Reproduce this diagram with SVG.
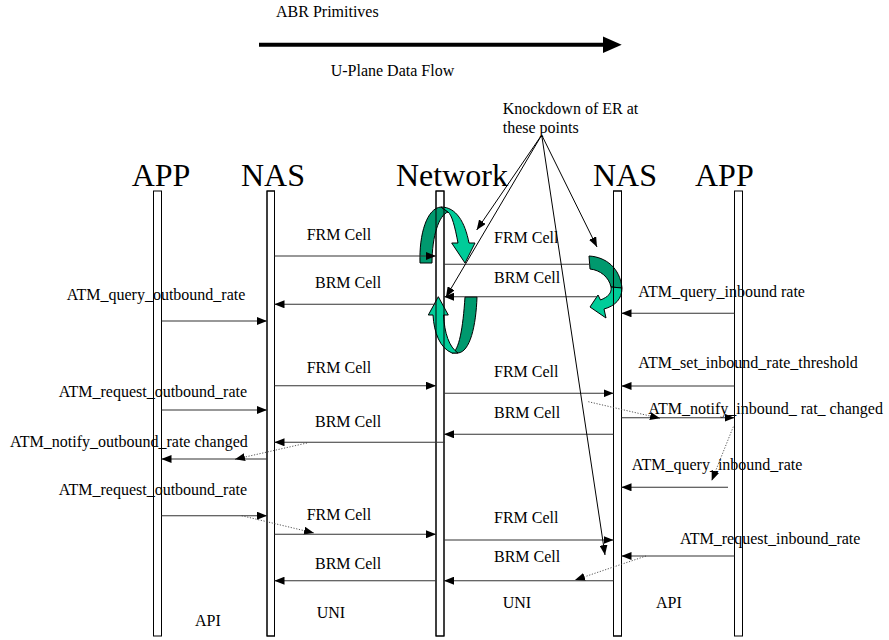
<svg xmlns="http://www.w3.org/2000/svg" width="889" height="640" viewBox="0 0 889 640">
  <style>
    text { font-family: "Liberation Serif", "Times New Roman", serif; fill: #000; }
    .lbl { font-size: 16px; }
    .hdr { font-size: 32px; }
    .life { fill: #fff; stroke: #000; stroke-width: 1; }
    .edge { fill: none; stroke: #000; stroke-width: 1; }
    .msg { fill: none; stroke: #333; stroke-width: 1.1; marker-end: url(#head); }
    .line { fill: none; stroke: #333; stroke-width: 1.1; }
    .dot { fill: none; stroke: #444; stroke-width: 0.9; stroke-dasharray: 1.2 1.6; marker-end: url(#head); }
    .knock { fill: none; stroke: #000; stroke-width: 1; marker-end: url(#head); }
    .dark { fill: #00996E; stroke: #000; stroke-width: 1; stroke-linejoin: round; }
    .light { fill: #00CC99; stroke: #000; stroke-width: 1; stroke-linejoin: round; }
  </style>
  <defs>
    <marker id="head" viewBox="0 0 10 8" refX="10" refY="4" markerWidth="10" markerHeight="8" markerUnits="userSpaceOnUse" orient="auto">
      <path d="M0,0 L10,4 L0,8 Z" fill="#000"/>
    </marker>
  </defs>

  <!-- legend -->
  <g id="legend">
    <text class="lbl" x="276" y="17">ABR Primitives</text>
    <line x1="259" y1="44.7" x2="604" y2="44.7" stroke="#000" stroke-width="4"/>
    <polygon points="603,36.5 621.7,44.7 603,53" fill="#000"/>
    <text class="lbl" x="330.7" y="76">U-Plane Data Flow</text>
  </g>

  <!-- lifelines -->
  <g id="app-left">
    <text class="hdr" x="131.7" y="186">APP</text>
    <rect class="life" x="153.5" y="191" width="8" height="445"/>
  </g>
  <g id="nas-left">
    <text class="hdr" x="241" y="186">NAS</text>
    <rect class="life" x="267" y="191" width="7.5" height="445"/>
  </g>
  <g id="network">
    <text class="hdr" x="396" y="186">Network</text>
    <rect class="life" x="436" y="191" width="8" height="445"/>
  </g>
  <g id="nas-right">
    <text class="hdr" x="593" y="186">NAS</text>
    <rect class="life" x="613.5" y="191" width="8" height="445"/>
  </g>
  <g id="app-right">
    <text class="hdr" x="695" y="186">APP</text>
    <rect class="life" x="734.5" y="191" width="8" height="445"/>
  </g>

  <!-- rate adjustment loops -->
  <g id="loops">
    <!-- upper loop at the network -->
    <path class="dark" d="M420,263 C419,234 427,208 441,207 L448,212 C439,215 432,236 432,263 Z"/>
    <path class="light" d="M441,207 C456,207 465,222 469,243 L475,243 L465,263 L451.7,243 L458,243 C455,227 452,215 448,212 Z"/>
    <!-- lower loop at the network -->
    <path class="dark" d="M452,353 C459,351 463,328 465,297 L477,297 C476,326 470,352 458,353 Z"/>
    <path class="light" d="M433,315 L428.3,315 L438.3,296.7 L448.3,315 L443.5,315 C444.5,333 449,347 458,353 L452,353 C440,348 434,333 433,315 Z"/>
    <!-- loop at the far NAS -->
    <path class="dark" d="M589,256 C606,257 620,268 622,288 L611,287 C609,277 600,270 590,269 Z"/>
    <path class="light" d="M622,288 C622,299 615,306 604,309 L606,318 L590,307 L598,295 L600.5,300 C608,297 612,293 611,287 Z"/>
  </g>

  <!-- lifeline outlines stay visible over the loops -->
  <g id="lifeline-edges">
    <rect class="edge" x="267" y="191" width="7.5" height="445"/>
    <rect class="edge" x="436" y="191" width="8" height="445"/>
    <rect class="edge" x="613.5" y="191" width="8" height="445"/>
  </g>

  <!-- message labels -->
  <g id="labels">
    <text class="lbl" x="306.7" y="240">FRM Cell</text>
    <text class="lbl" x="315" y="288">BRM Cell</text>
    <text class="lbl" x="66.7" y="300">ATM_query_outbound_rate</text>
    <text class="lbl" x="494" y="243">FRM Cell</text>
    <text class="lbl" x="494" y="283">BRM Cell</text>
    <text class="lbl" x="638.3" y="297">ATM_query_inbound rate</text>
    <text class="lbl" x="638.3" y="368">ATM_set_inbound_rate_threshold</text>
    <text class="lbl" x="306.7" y="373">FRM Cell</text>
    <text class="lbl" x="58.7" y="397">ATM_request_outbound_rate</text>
    <text class="lbl" x="494" y="377">FRM Cell</text>
    <text class="lbl" x="315" y="427">BRM Cell</text>
    <text class="lbl" x="494" y="418">BRM Cell</text>
    <text class="lbl" x="648.3" y="414">ATM_notify_inbound_ rat_ changed</text>
    <text class="lbl" x="10" y="447">ATM_notify_outbound_rate changed</text>
    <text class="lbl" x="631.7" y="470">ATM_query_inbound_rate</text>
    <text class="lbl" x="58.7" y="495">ATM_request_outbound_rate</text>
    <text class="lbl" x="306.7" y="520">FRM Cell</text>
    <text class="lbl" x="494" y="523">FRM Cell</text>
    <text class="lbl" x="680" y="544">ATM_request_inbound_rate</text>
    <text class="lbl" x="494" y="562">BRM Cell</text>
    <text class="lbl" x="315" y="569">BRM Cell</text>
    <text class="lbl" x="316.7" y="618">UNI</text>
    <text class="lbl" x="195" y="626">API</text>
    <text class="lbl" x="502.7" y="608">UNI</text>
    <text class="lbl" x="656" y="608">API</text>
    <text class="lbl" x="502.7" y="114">Knockdown of ER at</text>
    <text class="lbl" x="502.7" y="133">these points</text>
  </g>

  <!-- connectors -->
  <g id="connectors">
    <!-- APP / NAS (left) -->
    <path class="msg" d="M161.5,321 H267"/>
    <path class="msg" d="M161.5,410 H267"/>
    <path class="msg" d="M267,459 H161.5"/>
    <path class="msg" d="M161.5,515.7 H267"/>
    <path class="dot" d="M307,443 L235,459.3"/>
    <path class="dot" d="M241.7,515.7 L314,533"/>
    <!-- NAS (left) / network -->
    <path class="msg" d="M274.5,256 H436"/>
    <path class="msg" d="M436,304.3 H274.5"/>
    <path class="msg" d="M274.5,385.7 H436"/>
    <path class="msg" d="M445,442.3 H274.5"/>
    <path class="msg" d="M274.5,534.3 H436"/>
    <path class="msg" d="M436,580.7 H274.5"/>
    <!-- network / NAS (right) -->
    <path class="line" d="M444,264.3 H590"/>
    <path class="msg" d="M597,296.7 H444"/>
    <path class="msg" d="M444,393.3 H613.5"/>
    <path class="msg" d="M613.5,434.3 H444"/>
    <path class="msg" d="M444,540 H613.5"/>
    <path class="msg" d="M613.5,580.7 H444"/>
    <path class="dot" d="M646,556 L575,580"/>
    <!-- NAS (right) / APP (right) -->
    <path class="msg" d="M734.5,313.3 H621.5"/>
    <path class="msg" d="M734.5,386 H621.5"/>
    <path class="msg" d="M621.5,417.7 H734.5"/>
    <path class="msg" d="M728,487.3 H621.5"/>
    <path class="msg" d="M734.5,556 H621.5"/>
    <path class="dot" d="M588.3,401.7 L660,418.3"/>
    <path class="dot" d="M733.3,426.7 L711.7,480.7"/>
    <!-- knockdown pointers -->
    <path class="knock" d="M541.7,135 L476.7,230"/>
    <path class="knock" d="M541.7,135 L446,297"/>
    <path class="knock" d="M541.7,135 L597,247"/>
    <path class="knock" d="M541.7,135 L605,555"/>
  </g>
</svg>
